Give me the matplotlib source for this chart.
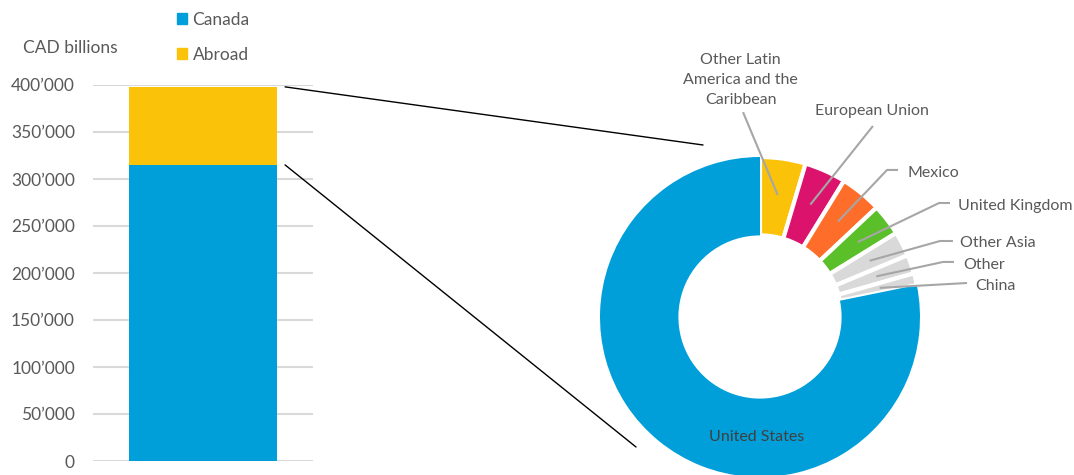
import numpy as np
import matplotlib
matplotlib.use("Agg")
import matplotlib.pyplot as plt
from matplotlib.patches import Patch, ConnectionPatch
from matplotlib.ticker import FuncFormatter

plt.rcParams['font.family'] = ['Lato', 'DejaVu Sans']

# stacked bar (CAD billions)
bar_series = ['Canada', 'Abroad']
bar_values = [315000, 83000]
bar_colors = ['#009FDA', '#FAC30A']

# donut: share of assets abroad by region (%)
regions = ['Other Latin\nAmerica and the\nCaribbean', 'European Union', 'Mexico',
           'United Kingdom', 'Other Asia', 'Other', 'China', 'United States']
shares = [4.6, 4.2, 4.2, 3.2, 2.5, 1.9, 1.2, 78.2]
region_colors = ['#FAC30A', '#DC136C', '#FF6D2A', '#5BBF2A',
                 '#D9D9D9', '#D9D9D9', '#D9D9D9', '#009FDA']

yticks = np.arange(0, 400001, 50000)
txt = '#595959'

fig = plt.figure(figsize=(10.74, 4.75), dpi=100)

# ---- left: stacked bar ----
ax1 = fig.add_axes([93 / 1074, 14 / 475, 220 / 1074, 376 / 475])
bottom = 0
for name, val, col in zip(bar_series, bar_values, bar_colors):
    ax1.bar(0, val, bottom=bottom, width=0.673, color=col, label=name, zorder=3)
    bottom += val
ax1.set_xlim(-0.5, 0.5)
ax1.set_ylim(0, 400000)
ax1.set_yticks(yticks)
ax1.yaxis.set_major_formatter(FuncFormatter(lambda v, p: f"{int(v):,}".replace(',', '\u2019')))
ax1.tick_params(axis='y', length=0, pad=13, labelsize=12.5, labelcolor=txt)
ax1.set_xticks([])
ax1.grid(axis='y', color='#D9D9D9', linewidth=1.5, zorder=0)
for s in ax1.spines.values():
    s.set_visible(False)
ax1.patch.set_alpha(0)

fig.text(70 / 1074, 1 - 48 / 475, 'CAD billions', ha='center', va='center',
         fontsize=12.5, color=txt)

handles = [Patch(color=c, label=n) for n, c in zip(bar_series, bar_colors)]
fig.legend(handles=handles, loc='upper left', bbox_to_anchor=(170 / 1074, 1 - 5 / 475),
           frameon=False, fontsize=12.5, labelcolor=txt, handlelength=0.6,
           handleheight=0.6, handletextpad=0.3, labelspacing=1.08, borderaxespad=0)

# ---- right: donut ----
cx, cy, half = 760, 317, 200
ax2 = fig.add_axes([(cx - half) / 1074, (475 - cy - half) / 475, 2 * half / 1074, 2 * half / 475])
wedges, _ = ax2.pie(shares, colors=region_colors, startangle=90, counterclock=False,
                    radius=1, wedgeprops=dict(width=0.49, edgecolor='white', linewidth=3))
wedges[-1].set_linewidth(0)
ax2.set_xlim(-1.25, 1.25)
ax2.set_ylim(-1.25, 1.25)
ax2.set_aspect('equal')
ax2.axis('off')

# label positions (text anchor, elbow points) in donut data units
label_pos = [
    dict(text=(-0.12, 1.31), ha='center', va='bottom', path=[(-0.106, 1.28)]),
    dict(text=(0.70, 1.29), ha='center', va='center', path=[(0.706, 1.194)]),
    dict(text=(0.919, 0.90), ha='left', va='center', path=[(0.8625, 0.919), (0.794, 0.919)]),
    dict(text=(1.2375, 0.695), ha='left', va='center', path=[(1.1875, 0.7125), (1.119, 0.7125)]),
    dict(text=(1.25, 0.46), ha='left', va='center', path=[(1.206, 0.475), (1.125, 0.475)]),
    dict(text=(1.269, 0.327), ha='left', va='center', path=[(1.2125, 0.344), (1.144, 0.344)]),
    dict(text=(1.344, 0.195), ha='left', va='center', path=[(1.294, 0.2125)]),
]
for w, name, lp in zip(wedges, regions, label_pos):
    mid = np.deg2rad((w.theta1 + w.theta2) / 2)
    ax_pt = (0.77 * np.cos(mid), 0.77 * np.sin(mid))
    pts = lp['path'] + [ax_pt]
    ax2.plot([p[0] for p in pts], [p[1] for p in pts], color='#A6A6A6', lw=1.5,
             clip_on=False, solid_capstyle='butt')
    ax2.text(lp['text'][0], lp['text'][1], name, ha=lp['ha'], va=lp['va'],
             fontsize=11.5, color=txt, linespacing=1.55, multialignment='center', clip_on=False)

ax2.text(-0.02, -0.75, regions[-1], ha='center', va='center', fontsize=11.5, color='#404040')

# ---- connector lines ----
for yv, end in [(sum(bar_values), (-0.356, 1.075)), (bar_values[0], (-0.775, -0.8125))]:
    con = ConnectionPatch(xyA=(0.373, yv), coordsA=ax1.transData,
                          xyB=end, coordsB=ax2.transData, color='black', lw=1)
    fig.add_artist(con)

fig.savefig('out.png', dpi=100)
